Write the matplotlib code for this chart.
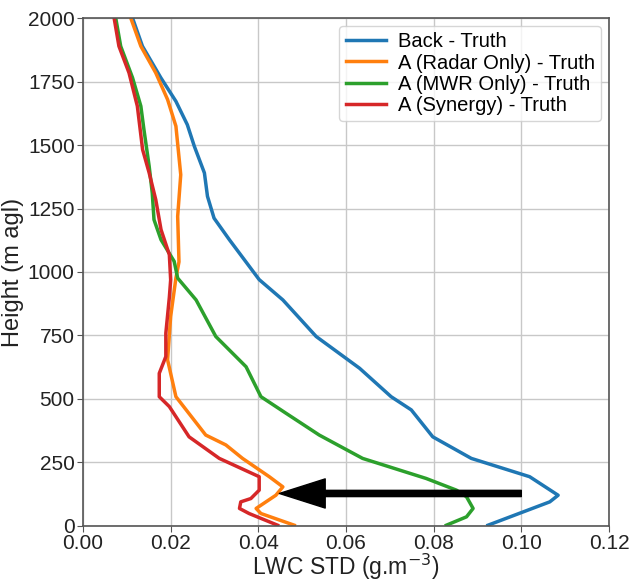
import matplotlib
matplotlib.use("Agg")
import matplotlib.pyplot as plt

plt.rcParams['font.family'] = ['Liberation Sans', 'DejaVu Sans']

# Back - Truth
back_x = [0.0924, 0.1065, 0.1084, 0.1019, 0.0886, 0.0798, 0.0749, 0.0703, 0.0631, 0.0532,
          0.0456, 0.0402, 0.0334, 0.0299, 0.0284, 0.0277, 0.0254, 0.0238, 0.0212, 0.01775,
          0.01356, 0.0113]
back_h = [3, 95, 121, 194, 266, 351, 457, 509, 621, 746,
          890, 970, 1127, 1212, 1298, 1390, 1495, 1580, 1672, 1765,
          1889, 2000]

# A (Radar Only) - Truth
radar_x = [0.0482, 0.0406, 0.0395, 0.0440, 0.0456, 0.0425, 0.0364, 0.0326, 0.0280, 0.0212,
           0.0193, 0.0200, 0.0212, 0.0219, 0.0216, 0.0223, 0.0212, 0.0193, 0.0166, 0.0132,
           0.0109]
radar_h = [3, 49, 69, 121, 154, 194, 266, 319, 358, 509,
           654, 825, 976, 1040, 1219, 1383, 1574, 1679, 1784, 1889,
           2000]

# A (MWR Only) - Truth
mwr_x = [0.0829, 0.0875, 0.0890, 0.0875, 0.0852, 0.0783, 0.0638, 0.0539, 0.0463, 0.0406,
         0.0372, 0.0303, 0.0258, 0.0216, 0.0208, 0.0178, 0.0162, 0.0158, 0.0151, 0.0139,
         0.0132, 0.0113, 0.0086, 0.00747]
mwr_h = [3, 36, 69, 115, 141, 187, 266, 358, 444, 509,
         627, 746, 890, 976, 1042, 1127, 1206, 1311, 1416, 1561,
         1653, 1765, 1889, 2000]

# A (Synergy) - Truth
syn_x = [0.0444, 0.0379, 0.0357, 0.0360, 0.0383, 0.0402, 0.0402, 0.0311, 0.0242, 0.0197,
         0.0174, 0.0174, 0.0189, 0.0189, 0.0197, 0.0200, 0.0197, 0.0178, 0.0166, 0.0151,
         0.0136, 0.0124, 0.0105, 0.0082, 0.0071]
syn_h = [3, 49, 69, 95, 108, 141, 194, 266, 351, 470,
         509, 601, 667, 759, 900, 969, 1068, 1167, 1285, 1390,
         1482, 1653, 1784, 1889, 2000]

labels = ['Back - Truth', 'A (Radar Only) - Truth', 'A (MWR Only) - Truth', 'A (Synergy) - Truth']
colors = ['#1f77b4', '#ff7f0e', '#2ca02c', '#d62728']

xticks = [0.00, 0.02, 0.04, 0.06, 0.08, 0.10, 0.12]
yticks = [0, 250, 500, 750, 1000, 1250, 1500, 1750, 2000]

arrow_tail = (0.100, 128)
arrow_tip = (0.0448, 128)

fig = plt.figure(figsize=(6.35, 5.85), dpi=100)
ax = fig.add_axes([0.1307, 0.1009, 0.8283, 0.8683])

series = [(back_x, back_h), (radar_x, radar_h), (mwr_x, mwr_h), (syn_x, syn_h)]
for (xs, hs), lab, c in zip(series, labels, colors):
    ax.plot(xs, hs, color=c, lw=2.5, label=lab)

ax.annotate('', xy=arrow_tip, xytext=arrow_tail,
            arrowprops=dict(facecolor='black', edgecolor='black', width=4.5,
                            headwidth=21, headlength=33, shrink=0))

ax.set_xlim(0, 0.12)
ax.set_ylim(0, 2000)
ax.set_xticks(xticks)
ax.set_xticklabels([f'{v:.2f}' for v in xticks])
ax.set_yticks(yticks)
ax.grid(True, color='#c8c8c8', lw=1.0)
ax.set_axisbelow(True)
ax.tick_params(labelsize=15, colors='#222222', length=4, color='#555555', pad=2)
for s in ax.spines.values():
    s.set_color('#555555')
    s.set_linewidth(1.2)

ax.set_xlabel('LWC STD (g.m$^{-3}$)', fontsize=16.5, color='#222222', labelpad=-1)
ax.set_ylabel('Height (m agl)', fontsize=17, color='#222222', labelpad=3)

leg = ax.legend(loc='upper right', fontsize=14.5, handlelength=2.0, borderpad=0.3,
                labelspacing=0.12, handletextpad=0.6, borderaxespad=0.4)

fig.savefig('out.png', dpi=100)
